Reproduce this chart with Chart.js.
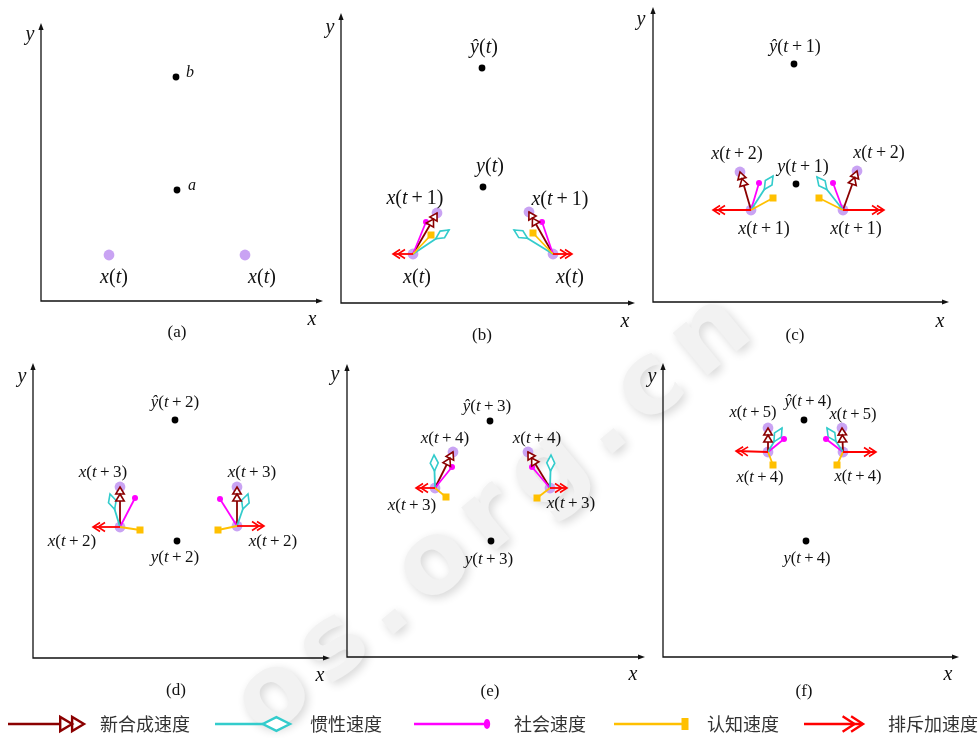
<!DOCTYPE html>
<html>
<head>
<meta charset="utf-8">
<script src="https://cdn.jsdelivr.net/npm/chart.js@4.4.1/dist/chart.umd.min.js"></script>
<style>
  html, body { margin: 0; padding: 0; background: #fff; }
  #wrap { position: relative; width: 979px; height: 738px; overflow: hidden; }
  #wrap canvas { position: absolute; left: 0; top: 0; }
</style>
</head>
<body>
<div id="wrap"></div>
<script>
// ---- data (panel units, origin at the axes corner, y up) ----
const captions = ['(a)', '(b)', '(c)', '(d)', '(e)', '(f)'];

const targetNames = [['b', 'a'], ['ŷ(t)', 'y(t)'], ['ŷ(t+1)', 'y(t+1)'], ['ŷ(t+2)', 'y(t+2)'], ['ŷ(t+3)', 'y(t+3)'], ['ŷ(t+4)', 'y(t+4)']];
const targetPoints = [
  [[135, 224], [136, 111]],
  [[141, 235], [142, 116]],
  [[141, 238], [143, 118]],
  [[142, 238], [144, 117]],
  [[143, 236], [144, 116]],
  [[141, 237], [143, 116]]
];

const nowNames = [['x(t)', 'x(t)'], ['x(t)', 'x(t)'], ['x(t+1)', 'x(t+1)'], ['x(t+2)', 'x(t+2)'], ['x(t+3)', 'x(t+3)'], ['x(t+4)', 'x(t+4)']];
const nextNames = [null, ['x(t+1)', 'x(t+1)'], ['x(t+2)', 'x(t+2)'], ['x(t+3)', 'x(t+3)'], ['x(t+4)', 'x(t+4)'], ['x(t+5)', 'x(t+5)']];

const particleNow = [
  [[68, 46], [204, 46]],
  [[72, 49], [212, 49]],
  [[98, 92], [190, 92]],
  [[87, 131], [204, 132]],
  [[88, 169], [203, 169]],
  [[105, 205], [180, 205]]
];
// new position = end of the new (resultant) velocity
const particleNext = [null,
  [[96, 90], [188, 91]],
  [[87, 130], [204, 131]],
  [[87, 171], [204, 171]],
  [[106, 205], [181, 205]],
  [[105, 229], [179, 229]]
];
const inertiaEnd = [null,
  [[108, 73], [173, 73]],
  [[120, 126], [164, 125]],
  [[77, 164], [215, 164]],
  [[87, 202], [204, 202]],
  [[119, 229], [164, 229]]
];
const socialEnd = [null,
  [[85, 81], [201, 81]],
  [[106, 119], [180, 119]],
  [[102, 160], [187, 159]],
  [[105, 190], [185, 190]],
  [[121, 218], [163, 218]]
];
const cognitiveEnd = [null,
  [[90, 68], [192, 70]],
  [[120, 104], [166, 104]],
  [[107, 128], [185, 128]],
  [[99, 160], [190, 159]],
  [[110, 192], [174, 192]]
];
const repulsionEnd = [null,
  [[52, 49], [231, 49]],
  [[60, 92], [231, 92]],
  [[60, 131], [231, 132]],
  [[69, 169], [220, 169]],
  [[73, 206], [213, 205]]
];

const legendNames = ['新合成速度', '惯性速度', '社会速度', '认知速度', '排斥加速度'];
const watermark = 'os.org.cn';

// ---- layout ----
const W = 979, H = 738;
const panelOrigins = [[41, 301], [341, 303], [653, 302], [33, 658], [347, 657], [663, 657]];
const axisLengths = [[282, 278], [294, 290], [296, 295], [297, 295], [298, 293], [296, 294]];
const mathSize = [20, 20, 18, 17, 17, 16.5];
const targetLabelAt = [
  [[149, 228], [151, 115]],
  [[143, 255], [149, 136]],
  [[142, 255], [150, 135]],
  [[142, 255], [142, 100]],
  [[140, 250], [142, 97]],
  [[145, 255], [144, 98]]
];
const nowLabelAt = [
  [[73, 23], [221, 23]],
  [[76, 25], [229, 25]],
  [[111, 73], [203, 73]],
  [[39, 116], [240, 116]],
  [[65, 151], [224, 153]],
  [[97, 179], [195, 180]]
];
const nextLabelAt = [null,
  [[74, 104], [219, 103]],
  [[84, 148], [226, 149]],
  [[70, 185], [219, 185]],
  [[98, 218], [190, 218]],
  [[90, 244], [190, 242]]
];
const yLabelAt = [[-11, 266], [-11, 275], [-12, 282], [-11, 281], [-12, 282], [-11, 280]];
const xLabelAt = [[271, -19], [284, -19], [287, -20], [287, -18], [286, -18], [285, -18]];
const captionAt = [[136, -32], [141, -33], [142, -34], [143, -33], [143, -35], [141, -35]];

const COLORS = {
  next: '#8b0000', inertia: '#33cccc', social: '#ff00ff',
  cognitive: '#ffc000', repulsion: '#ff0000', particle: '#c9a3f3'
};
const SERIF = '"Liberation Serif", "DejaVu Serif", serif';

// letters italic, the rest upright, like typeset math
function drawMath(ctx, text, cx, cy, size, align) {
  const parts = [];
  for (const ch of text) {
    const it = /[a-zŷ]/.test(ch);
    parts.push({ ch, font: (it ? 'italic ' : '') + size + 'px ' + SERIF, pad: ch === '+' ? size * 0.2 : 0 });
  }
  let w = 0;
  parts.forEach(p => { ctx.font = p.font; p.w = ctx.measureText(p.ch).width + 2 * p.pad; w += p.w; });
  let x = align === 'left' ? cx : cx - w / 2;
  ctx.textBaseline = 'middle';
  ctx.textAlign = 'left';
  ctx.fillStyle = '#111';
  parts.forEach(p => { ctx.font = p.font; ctx.fillText(p.ch, x + p.pad, cy); x += p.w; });
}

function drawMarker(ctx, kind, x1, y1, x2, y2, color, k) {
  const d = Math.hypot(x2 - x1, y2 - y1) || 1;
  const ux = (x2 - x1) / d, uy = (y2 - y1) / d;
  const nx = -uy, ny = ux;
  ctx.save();
  ctx.strokeStyle = color;
  ctx.fillStyle = color;
  ctx.lineWidth = k > 1 ? 2.4 : 1.6;
  ctx.lineJoin = 'miter';
  if (kind === 'arrow2') {
    const L = 7 * k, Wd = 4.2 * k;
    for (let i = 0; i < 2; i++) {
      const tx = x2 - ux * L * i, ty = y2 - uy * L * i;
      const bx = tx - ux * L, by = ty - uy * L;
      ctx.beginPath();
      ctx.moveTo(tx, ty);
      ctx.lineTo(bx + nx * Wd, by + ny * Wd);
      ctx.lineTo(bx - nx * Wd, by - ny * Wd);
      ctx.closePath();
      ctx.fillStyle = '#fff';
      ctx.fill();
      ctx.stroke();
    }
  } else if (kind === 'diamond') {
    const L = 16 * k, Wd = 4 * k;
    const mx = x2 - ux * L / 2, my = y2 - uy * L / 2;
    ctx.beginPath();
    ctx.moveTo(x2, y2);
    ctx.lineTo(mx + nx * Wd, my + ny * Wd);
    ctx.lineTo(x2 - ux * L, y2 - uy * L);
    ctx.lineTo(mx - nx * Wd, my - ny * Wd);
    ctx.closePath();
    ctx.fillStyle = '#fff';
    ctx.fill();
    ctx.stroke();
  } else if (kind === 'dot') {
    ctx.beginPath();
    if (k > 1) ctx.ellipse(x2, y2, 3.2, 5, 0, 0, Math.PI * 2);
    else ctx.arc(x2, y2, 3, 0, Math.PI * 2);
    ctx.fill();
  } else if (kind === 'square') {
    if (k > 1) ctx.fillRect(x2 - 3.5, y2 - 6, 7, 12);
    else ctx.fillRect(x2 - 3.5, y2 - 3.5, 7, 7);
  } else if (kind === 'chevron2') {
    const L = 7 * k, Wd = 4.5 * k, G = 5 * k;
    for (let i = 0; i < 2; i++) {
      const tx = x2 - ux * G * i, ty = y2 - uy * G * i;
      const bx = tx - ux * L, by = ty - uy * L;
      ctx.beginPath();
      ctx.moveTo(bx + nx * Wd, by + ny * Wd);
      ctx.lineTo(tx, ty);
      ctx.lineTo(bx - nx * Wd, by - ny * Wd);
      ctx.stroke();
    }
  }
  ctx.restore();
}

function axisArrow(ctx, x, y, dx, dy) {
  const L = 7, Wd = 2.6;
  ctx.beginPath();
  ctx.moveTo(x, y);
  ctx.lineTo(x - dx * L - dy * Wd, y - dy * L + dx * Wd);
  ctx.lineTo(x - dx * L + dy * Wd, y - dy * L - dx * Wd);
  ctx.closePath();
  ctx.fill();
}

// faint site watermark behind everything (drawn once, on the first canvas)
const watermarkPlugin = {
  id: 'watermark',
  beforeDraw(chart) {
    const ctx = chart.ctx;
    ctx.save();
    ctx.translate(265, 740);
    ctx.rotate(-39.5 * Math.PI / 180);
    ctx.font = 'bold 100px "DejaVu Sans", sans-serif';
    ctx.textBaseline = 'alphabetic';
    ctx.shadowColor = 'rgba(0,0,0,0.16)';
    ctx.shadowBlur = 10;
    ctx.shadowOffsetX = 3;
    ctx.shadowOffsetY = 3;
    ctx.fillStyle = '#f2f2f2';
    let x = 0;
    for (const ch of watermark) {
      ctx.fillText(ch, x, 0);
      x += ctx.measureText(ch).width + 14;
    }
    ctx.restore();
  }
};

const panelPlugin = {
  id: 'panel',
  beforeDatasetsDraw(chart) {
    const i = chart.options.panelIndex;
    const ctx = chart.ctx, xs = chart.scales.x, ys = chart.scales.y;
    const x0 = xs.getPixelForValue(0), y0 = ys.getPixelForValue(0);
    const x1 = xs.getPixelForValue(axisLengths[i][0]), y1 = ys.getPixelForValue(axisLengths[i][1]);
    ctx.save();
    ctx.strokeStyle = '#111';
    ctx.fillStyle = '#111';
    ctx.lineWidth = 1.3;
    ctx.beginPath();
    ctx.moveTo(x0, y1 + 4); ctx.lineTo(x0, y0); ctx.lineTo(x1 - 4, y0);
    ctx.stroke();
    axisArrow(ctx, x0, y1, 0, -1);
    axisArrow(ctx, x1, y0, 1, 0);
    ctx.restore();
  },
  afterDatasetsDraw(chart) {
    const i = chart.options.panelIndex;
    const ctx = chart.ctx, xs = chart.scales.x, ys = chart.scales.y;
    const px = p => [xs.getPixelForValue(p[0]), ys.getPixelForValue(p[1])];
    chart.data.datasets.forEach((ds, di) => {
      if (!ds.marker) return;
      const el = chart.getDatasetMeta(di).data;
      drawMarker(ctx, ds.marker, el[0].x, el[0].y, el[1].x, el[1].y, ds.borderColor, 1);
    });
    ctx.save();
    const size = mathSize[i];
    targetNames[i].forEach((t, j) => {
      const [x, y] = px(targetLabelAt[i][j]);
      if (i === 0) drawMath(ctx, t, x - 4, y, 16, 'left');
      else drawMath(ctx, t, x, y, size);
    });
    nowNames[i].forEach((t, j) => { const [x, y] = px(nowLabelAt[i][j]); drawMath(ctx, t, x, y, size); });
    if (nextNames[i]) nextNames[i].forEach((t, j) => { const [x, y] = px(nextLabelAt[i][j]); drawMath(ctx, t, x, y, size); });
    let [x, y] = px(yLabelAt[i]);
    drawMath(ctx, 'y', x, y, 20);
    [x, y] = px(xLabelAt[i]);
    drawMath(ctx, 'x', x, y, 20);
    [x, y] = px(captionAt[i]);
    ctx.font = '17px ' + SERIF;
    ctx.fillStyle = '#111';
    ctx.textAlign = 'center';
    ctx.textBaseline = 'middle';
    ctx.fillText(captions[i], x, y);
    ctx.restore();
  }
};

// legend along the bottom edge
const legendKinds = ['arrow2', 'diamond', 'dot', 'square', 'chevron2'];
const legendColors = [COLORS.next, COLORS.inertia, COLORS.social, COLORS.cognitive, COLORS.repulsion];
const legendLineX = [[8, 84], [215, 290], [414, 487], [614, 685], [804, 863]];
const legendTextX = [100, 310, 514, 707, 888];
const legendPlugin = {
  id: 'bottomLegend',
  afterDraw(chart) {
    const ctx = chart.ctx, y = 724;
    ctx.save();
    legendNames.forEach((name, j) => {
      const [a, b] = legendLineX[j];
      ctx.strokeStyle = legendColors[j];
      ctx.lineWidth = 2.4;
      ctx.beginPath();
      ctx.moveTo(a, y);
      ctx.lineTo(legendKinds[j] === 'diamond' ? b - 27 : b - 2, y);
      ctx.stroke();
      drawMarker(ctx, legendKinds[j], a, y, b, y, legendColors[j], 1.7);
      ctx.font = '18px "Noto Sans CJK SC", sans-serif';
      ctx.fillStyle = '#333';
      ctx.textAlign = 'left';
      ctx.textBaseline = 'middle';
      ctx.fillText(name, legendTextX[j], y);
    });
    ctx.restore();
  }
};

const wrap = document.getElementById('wrap');
const toXY = p => ({ x: p[0], y: p[1] });

function vector(from, to, color, marker) {
  return {
    data: [toXY(from), toXY(to)], showLine: true, borderColor: color, borderWidth: 1.8,
    pointRadius: 0, marker, order: 1, clip: false
  };
}

for (let i = 0; i < 6; i++) {
  const canvas = document.createElement('canvas');
  canvas.width = W; canvas.height = H;
  canvas.style.width = W + 'px'; canvas.style.height = H + 'px';
  wrap.appendChild(canvas);

  const [ox, oy] = panelOrigins[i];
  const [xl, yl] = axisLengths[i];
  const purple = particleNow[i].slice();
  if (particleNext[i]) purple.push(...particleNext[i]);

  const datasets = [
    { data: purple.map(toXY), pointRadius: 5.4, backgroundColor: COLORS.particle, borderWidth: 0, order: 10, clip: false },
    { data: targetPoints[i].map(toXY), pointRadius: 3.4, backgroundColor: '#000', borderWidth: 0, order: 0, clip: false }
  ];
  if (particleNext[i]) {
    for (let g = 0; g < 2; g++) {
      const o = particleNow[i][g];
      datasets.push(vector(o, repulsionEnd[i][g], COLORS.repulsion, 'chevron2'));
      datasets.push(vector(o, cognitiveEnd[i][g], COLORS.cognitive, 'square'));
      datasets.push(vector(o, inertiaEnd[i][g], COLORS.inertia, 'diamond'));
      datasets.push(vector(o, socialEnd[i][g], COLORS.social, 'dot'));
      datasets.push(vector(o, particleNext[i][g], COLORS.next, 'arrow2'));
    }
  }

  const plugins = [panelPlugin];
  if (i === 0) plugins.unshift(watermarkPlugin);
  if (i === 5) plugins.push(legendPlugin);

  new Chart(canvas, {
    type: 'scatter',
    data: { datasets },
    options: {
      panelIndex: i,
      responsive: false,
      animation: false,
      events: [],
      layout: { padding: { left: ox, top: oy - yl, right: W - ox - xl, bottom: H - oy } },
      scales: {
        x: { type: 'linear', min: 0, max: xl, display: false },
        y: { type: 'linear', min: 0, max: yl, display: false }
      },
      plugins: { legend: { display: false }, tooltip: { enabled: false } }
    },
    plugins
  });
}
</script>
</body>
</html>
